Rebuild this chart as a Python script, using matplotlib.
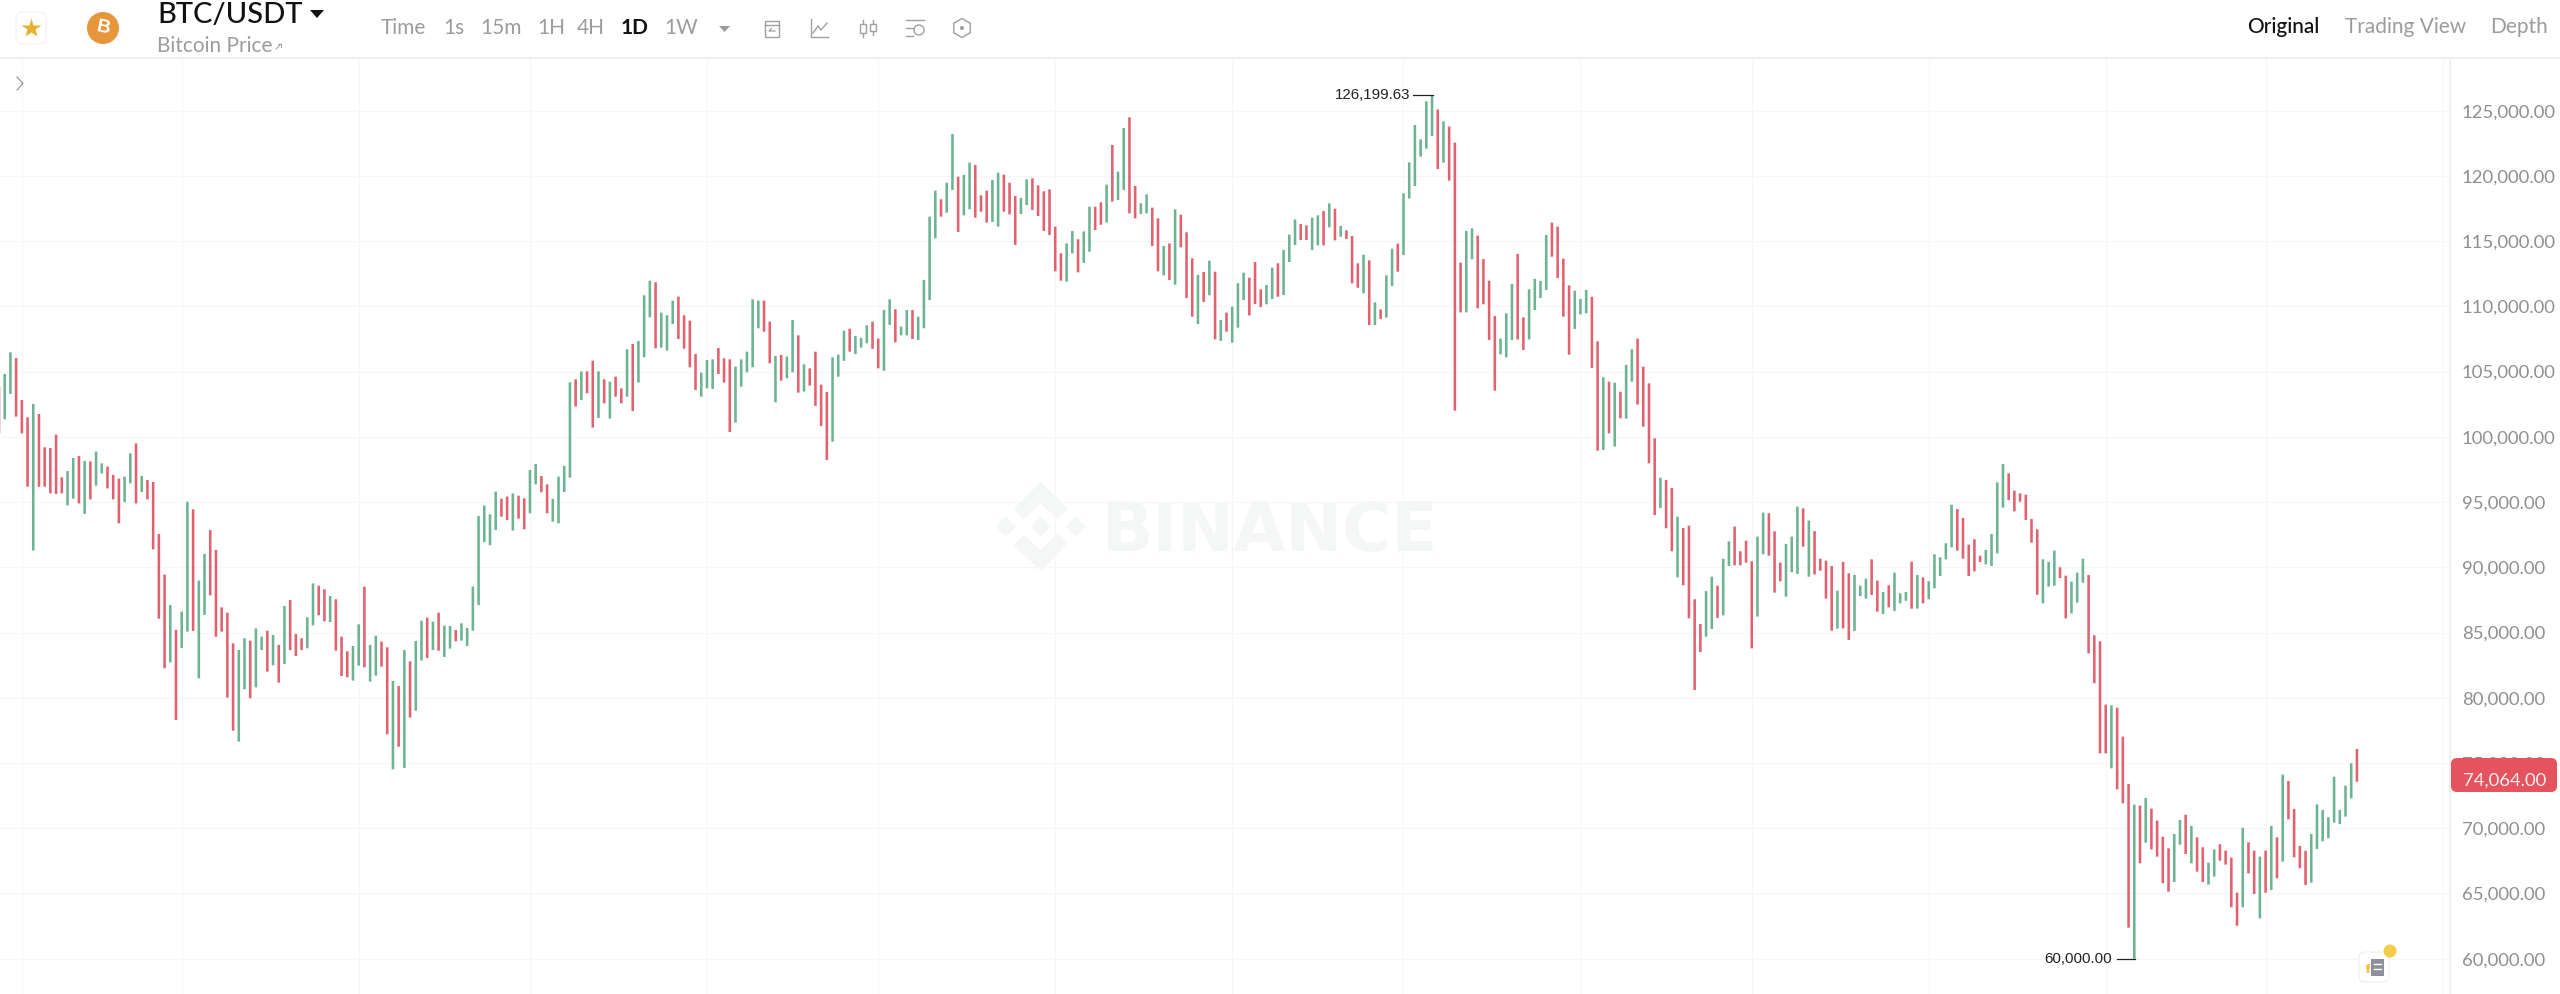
import numpy as np
import matplotlib
matplotlib.use('Agg')
import matplotlib.pyplot as plt
from matplotlib.patches import FancyBboxPatch, Circle, Polygon, Rectangle, RegularPolygon

# daily BTC/USDT bars
highs = [
    103850, 104820, 106480, 106040, 102830, 101500, 102520, 101750, 99200, 99150,
    100170, 96900, 97380, 98380, 98530, 98150, 98120, 98870, 97970, 97720,
    97080, 96800, 96950, 98740, 99500, 97000, 96690, 96540, 92550, 89440,
    87110, 85200, 86600, 95030, 94450, 88980, 91020, 92860, 91330, 86930,
    86520, 84170, 83660, 84560, 84380, 85320, 84680, 85140, 84810, 84050,
    87040, 87500, 84890, 84560, 86170, 88770, 88590, 88310, 87800, 87550,
    84680, 83560, 83970, 85630, 88520, 84050, 84760, 84300, 83870, 81290,
    80900, 83660, 82790, 84350, 85910, 86140, 85830, 86520, 85530, 85500,
    85200, 85710, 85350, 88520, 93930, 94730, 94060, 95800, 95260, 95420,
    95670, 95490, 95290, 97460, 97920, 97000, 96360, 95240, 96950, 97770,
    104180, 104410, 105020, 105020, 105840, 105020, 104410, 104230, 104610, 103720,
    106710, 107120, 107350, 110850, 111970, 111850, 109520, 109320, 110440, 110750,
    109320, 108910, 106350, 104920, 105890, 105940, 106810, 106020, 105940, 105380,
    105940, 106530, 110540, 110440, 110440, 108830, 106200, 106280, 106150, 108960,
    107780, 105560, 105250, 106530, 104000, 103440, 106100, 106300, 108140, 108290,
    107730, 107580, 108550, 108830, 107530, 109720, 110540, 109780, 108450, 109720,
    109720, 109210, 112020, 116880, 118870, 118210, 119480, 123210, 119940, 120070,
    121020, 120840, 118510, 118870, 119690, 120250, 120100, 119480, 118460, 118310,
    119740, 119820, 119280, 118820, 118970, 116110, 114070, 114830, 115780, 115140,
    115750, 117640, 117640, 117980, 119330, 122370, 120330, 123670, 124490, 119230,
    117900, 118590, 117570, 116750, 114630, 114830, 117440, 117030, 115680, 113680,
    112410, 112640, 113500, 112660, 108960, 109520, 109980, 111770, 112580, 112200,
    113400, 111310, 111640, 112970, 113300, 114320, 115500, 116670, 116310, 116210,
    116800, 116980, 117310, 117900, 117490, 116160, 115830, 115400, 113300, 113960,
    113530, 110310, 109770, 112380, 114420, 114810, 118670, 121040, 123900, 122800,
    125720, 126200, 125100, 124180, 123780, 122550, 113350, 115780, 115980, 115420,
    113630, 111970, 109260, 107530, 109470, 111720, 114020, 109160, 111310, 112120,
    111950, 115470, 116420, 116110, 113660, 111610, 111200, 110570, 111260, 110740,
    107320, 104560, 104230, 104150, 103460, 105510, 106710, 107530, 105380, 104100,
    99890, 96870, 96690, 96080, 93880, 93010, 93190, 87550, 85660, 88180,
    89280, 88590, 90660, 91990, 93120, 91230, 92040, 90460, 92350, 94190,
    94140, 92760, 90360, 91790, 92350, 94650, 94520, 93580, 92780, 90660,
    90510, 90100, 88210, 90410, 89540, 89410, 88590, 89130, 90610, 88980,
    88110, 88620, 89590, 88010, 88110, 90430, 89410, 89230, 88930, 91000,
    90770, 91840, 94800, 94470, 93780, 91740, 92150, 90890, 91330, 92550,
    96510, 97920, 97200, 95880, 95670, 95570, 93700, 92910, 90610, 90410,
    91280, 90000, 89360, 88900, 89590, 90660, 89410, 84790, 84330, 79470,
    79420, 79240, 77020, 73390, 71810, 71730, 72320, 71500, 70580, 69350,
    68460, 69560, 70630, 71040, 70170, 69300, 68540, 67360, 68380, 68770,
    68280, 67740, 65060, 70040, 68920, 68280, 67820, 68280, 70170, 69300,
    74110, 73620, 71480, 68640, 68260, 69560, 71830, 71400, 70840, 73950,
    71400, 73260, 74980, 76070,
]
lows = [
    100270, 101340, 103290, 101550, 100270, 96180, 91280, 96180, 96180, 95670,
    95620, 95670, 94750, 95260, 94900, 94090, 95210, 96260, 97200, 96050,
    95210, 93370, 95010, 96440, 94900, 95770, 95210, 91380, 86060, 82260,
    82720, 78300, 83820, 85070, 85120, 81490, 86350, 87850, 84680, 85070,
    80010, 77480, 76640, 80650, 79960, 80800, 83660, 82000, 82490, 81160,
    82590, 83660, 83200, 83660, 83790, 85550, 86320, 85860, 85810, 83610,
    81670, 81570, 81310, 82460, 82330, 81240, 81700, 82390, 77200, 74520,
    76250, 74620, 78480, 79010, 82850, 83050, 83660, 83610, 83130, 83770,
    84330, 84380, 83970, 85140, 87110, 91940, 91690, 92860, 93880, 93630,
    92810, 93730, 92910, 94140, 96360, 95750, 94140, 93500, 93370, 95770,
    96870, 102320, 102830, 103340, 100710, 101450, 102570, 101400, 103080, 102570,
    103080, 101980, 104160, 106100, 109160, 106790, 106840, 106610, 108650, 107500,
    106760, 105330, 103590, 103080, 103720, 103670, 104820, 104160, 100370, 101090,
    103850, 104950, 105330, 108320, 108060, 105640, 102650, 104310, 104490, 104950,
    103390, 103470, 103930, 102370, 100830, 98230, 99630, 104610, 105820, 106530,
    106350, 106840, 107170, 106740, 105250, 105070, 108580, 107250, 107780, 107780,
    107500, 107430, 108320, 110490, 115220, 116880, 117180, 118920, 115700, 116980,
    117440, 116800, 117260, 116420, 116470, 116110, 117260, 117060, 114710, 117080,
    117770, 117390, 116930, 115780, 115470, 112690, 111970, 111890, 114070, 112610,
    113330, 114190, 115850, 116260, 116420, 118030, 118150, 118920, 117130, 116750,
    117080, 117130, 114630, 112690, 112380, 112020, 111660, 114530, 110640, 109210,
    108650, 110340, 110850, 107470, 107350, 108060, 107220, 108370, 110490, 109310,
    110180, 109950, 110160, 110570, 110740, 110870, 113400, 114710, 115090, 115090,
    114320, 114680, 114680, 116060, 115060, 115340, 115170, 111770, 111430, 111000,
    108570, 108570, 109030, 109140, 111560, 112660, 113940, 118260, 119230, 121480,
    122090, 123060, 120530, 121020, 119640, 102010, 109540, 109540, 113610, 109850,
    110160, 107420, 103540, 106320, 106090, 107420, 107470, 106660, 107470, 109720,
    110640, 111260, 113810, 112180, 109210, 106300, 108270, 109390, 109470, 105280,
    98940, 98990, 100270, 99250, 101420, 101390, 104230, 102470, 100780, 97970,
    94010, 94550, 92990, 91230, 89230, 88620, 86090, 80600, 83510, 84680,
    85270, 86120, 86320, 90100, 90150, 90150, 90360, 83790, 86220, 91000,
    90890, 88060, 88930, 87750, 89620, 89490, 91580, 89280, 89460, 89740,
    87600, 85140, 85300, 85320, 84430, 85120, 87800, 87600, 87880, 86600,
    86420, 86930, 86650, 87240, 87440, 86830, 86830, 87240, 87550, 88390,
    89330, 90610, 91530, 91280, 90660, 89330, 89690, 90410, 90230, 90100,
    91070, 94570, 95160, 94290, 95030, 93630, 91890, 87900, 87240, 88520,
    88590, 89180, 86090, 86470, 87290, 88820, 83410, 81110, 75740, 75740,
    74590, 72980, 71910, 62380, 60000, 67310, 68890, 68380, 67820, 65780,
    65140, 65880, 68740, 68030, 67310, 66670, 65880, 65680, 66290, 67510,
    67210, 63940, 62530, 63940, 66540, 64960, 63090, 65060, 65270, 66160,
    67440, 70680, 67770, 66930, 65650, 65830, 68410, 69000, 69230, 70430,
    70330, 70890, 72290, 73570,
]
# r = down day, g = up day
directions = (
    "rggrrrgrrr" "rrggrgrggr" "rrggrgrrrr" "grggrggrrr" "rrggrggrgr"
    "grrrggrrgr" "rrggrggrrg" "rgrggrgrgg" "rggggggg" "rr" "grrggrrggg"
    "grgrrgrgrr" "grgggrgggr" "rrrgggrrrg" "ggggrrgrgg" "rgrrrrgggr"
    "gggrrggrgg" "rggggrggrg" "grrrggrrrg" "grrrrrrggr" "ggrrgrggrr"
    "ggrrgrgrrr" "grgrgrgggr" "rrggrgggrr" "ggrgrgrrrg" "rgrggrgggg"
    "ggrgrrrggr" "rrrgggrrgg" "ggrrrrgggr" "rgrgrggrrr" "rgrrgrrrrg"
    "grggrrrrgg" "rrrgggrgrr" "rrgrrgggrr" "grgggrgrgg" "gggrrrrrgg"
    "ggrrrrrrgg" "grrgggrrrr" "grrrgrgrrr" "rggrgrrggr" "rrrgrrgrgr"
    "grrrrggggg" "gggr"
)
price_ticks = list(range(60000, 125001, 5000))
month_starts = [4, 32, 63, 93, 124, 154, 185, 216, 246, 277, 307, 338, 369, 397, 428]
last_price = "74,064.00"
timeframes = ["Time", "1s", "15m", "1H", "4H", "1D", "1W"]
timeframe_x = [381, 443, 480, 537, 577, 621, 664]
view_tabs = ["Original", "Trading View", "Depth"]
view_tab_x = [2247, 2345, 2490]

assert len(highs) == len(lows) == len(directions)

GREEN = '#6bb391'
RED = '#e1616f'
GREY = '#9c9c9c'
GRID = '#f6f6f6'
UI_FONT = 'Lato'

fig = plt.figure(figsize=(25.6, 9.94), dpi=100, facecolor='white')

# chart area, right edge at x=2450 and top edge at y=58 in pixels
ax = fig.add_axes([0, 0, 2450 / 2560, (994 - 58) / 994])
ax.set_xlim(0.175, 429.3)
ax.set_ylim(57294, 129039)
for s in ax.spines.values():
    s.set_visible(False)
ax.yaxis.tick_right()
ax.set_yticks(price_ticks)
ax.set_yticklabels(['{:,.2f}'.format(p) for p in price_ticks], fontfamily=UI_FONT,
                   fontsize=13.3, color='#8f8f8f')
ax.set_xticks(month_starts)
ax.set_xticklabels([])
ax.tick_params(length=0)
ax.tick_params(axis='y', pad=8.5)
ax.grid(True, color=GRID, lw=0.8)
ax.set_axisbelow(True)

idx = np.arange(len(highs))
colors = [GREEN if d == 'g' else RED for d in directions]
ax.vlines(idx, lows, highs, colors=colors, linewidth=1.85, capstyle='butt', zorder=3, snap=False)

# high and low markers
i_max = int(np.argmax(highs))
i_min = int(np.argmin(lows))
ax.plot([i_max - 3.3, i_max + 0.2], [highs[i_max], highs[i_max]], color='#222222', lw=0.9, zorder=4)
ax.text(i_max - 3.9, highs[i_max], '126,199.63', ha='right', va='center',
        fontsize=10.8, family='Liberation Sans', color='#222222')
ax.plot([i_min - 3.1, i_min + 0.2], [lows[i_min], lows[i_min]], color='#222222', lw=0.9, zorder=4)
ax.text(i_min - 4.0, lows[i_min], '60,000.00', ha='right', va='center',
        fontsize=10.8, family='Liberation Sans', color='#222222')

# everything else sits on a pixel layer
ui = fig.add_axes([0, 0, 1, 1])
ui.set_xlim(0, 2560)
ui.set_ylim(994, 0)
ui.axis('off')
ui.patch.set_alpha(0)

ui.plot([0, 2560], [57.5, 57.5], color='#f0f0f0', lw=1.5)
ui.plot([2450, 2450], [58, 994], color='#f0f0f0', lw=1.5)

# watermark
WM = '#f5f6f6'
def wm_x(z):
    return 960 + z / 3
def wm_y(z):
    return 460 + z / 3
logo = [
    [(242, 65), (325, 148), (292, 177), (242, 130), (192, 177), (160, 148)],
    [(242, 332), (323, 250), (292, 222), (242, 270), (192, 225), (160, 255)],
    [(242, 170), (272, 200), (242, 230), (212, 200)],
    [(137, 170), (167, 200), (137, 230), (107, 200)],
    [(347, 170), (377, 200), (347, 230), (317, 200)],
]
for pts in logo:
    ui.add_patch(Polygon([(wm_x(a), wm_y(b)) for a, b in pts], closed=True, fc=WM, ec='none', zorder=1))
ui.text(1102, 551, 'BINANCE', fontfamily='DejaVu Sans', fontweight='bold',
        fontsize=48.5, color=WM, ha='left', va='baseline', zorder=1)

# header left
ui.add_patch(FancyBboxPatch((16, 12), 30, 32, boxstyle='round,pad=0,rounding_size=6', fc='white', ec='#f3f3f3', lw=1))
ui.plot([31], [28], marker='*', ms=15, color='#e8b030', mec='none')
ui.add_patch(Circle((103, 28), 16, fc='#e8963c', ec='none'))
ui.text(103, 28.5, 'B', color='white', fontsize=13.5, fontweight='bold', ha='center', va='center',
        family='Liberation Sans', rotation=-12)
ui.text(157, 15, 'BTC/USDT', fontfamily=UI_FONT, fontsize=21, fontweight='medium', color='#111111', ha='left', va='center')
ui.add_patch(Polygon([(310, 10), (324, 10), (317, 18)], closed=True, fc='#111111', ec='none'))
ui.text(157, 46, 'Bitcoin Price', fontfamily=UI_FONT, fontsize=15, color=GREY, ha='left', va='center')
ui.plot([276, 281], [49, 44], color=GREY, lw=0.7)
ui.plot([278, 281, 281], [44, 44, 47], color=GREY, lw=0.7)

for label, x in zip(timeframes, timeframe_x):
    active = label == '1D'
    ui.text(x, 28.5, label, fontfamily=UI_FONT, fontsize=15, ha='left', va='center',
            color='#111111' if active else GREY, fontweight='bold' if active else 'normal')
ui.add_patch(Polygon([(719, 26), (730, 26), (724.5, 32)], closed=True, fc=GREY, ec='none'))

# toolbar icons
ICON = '#9f9f9f'
ui.add_patch(Rectangle((765, 21), 14, 16, fc='none', ec=ICON, lw=1))
ui.plot([765, 779], [25, 25], color=ICON, lw=1)
ui.plot([775, 769, 771.5], [31, 31, 28.5], color=ICON, lw=0.9)
ui.plot([811, 811, 828], [19, 37, 37], color=ICON, lw=1)
ui.plot([813, 818, 821, 827], [33, 26, 30, 23], color=ICON, lw=1)
for cx, top, bot in [(863, 20, 37), (873, 20, 35)]:
    ui.plot([cx, cx], [top, bot], color=ICON, lw=1)
    ui.add_patch(Rectangle((cx - 3, top + 4), 6, bot - top - 8, fc='white', ec=ICON, lw=1, zorder=3))
ui.plot([906, 924], [20, 20], color=ICON, lw=1)
ui.plot([906, 913], [28, 28], color=ICON, lw=1)
ui.plot([906, 913], [36, 36], color=ICON, lw=1)
ui.add_patch(Circle((919, 30), 5, fc='none', ec=ICON, lw=1))
ui.add_patch(RegularPolygon((962, 28), 6, radius=9.5, fc='none', ec=ICON, lw=1))
ui.add_patch(Circle((962, 28), 2, fc=ICON, ec='none'))

# collapse chevron
ui.plot([17, 23, 17], [77, 83.5, 90], color='#9a9a9a', lw=0.9)

# header right
for label, x in zip(view_tabs, view_tab_x):
    active = label == 'Original'
    ui.text(x, 27, label, fontfamily=UI_FONT, fontsize=15, ha='left', va='center',
            color='#111111' if active else GREY, fontweight='medium' if active else 'normal')

# current price tag
ui.add_patch(FancyBboxPatch((2451, 758), 106, 34, boxstyle='round,pad=0,rounding_size=6', fc='#e5535f', ec='none', zorder=5))
ui.text(2463, 781, last_price, fontfamily=UI_FONT, fontsize=13.3, color='#fbeff0', ha='left', va='center', zorder=6)

# news button
ui.add_patch(FancyBboxPatch((2359, 952), 30, 30, boxstyle='round,pad=0,rounding_size=6', fc='white', ec='#f2f2f2', lw=1, zorder=5))
ui.add_patch(Rectangle((2371, 959), 13, 17, fc='#8f8f9b', ec='none', zorder=6))
ui.plot([2374, 2381], [964, 964], color='white', lw=1, zorder=7)
ui.plot([2374, 2381], [969, 969], color='white', lw=1, zorder=7)
ui.add_patch(Polygon([(2366, 965), (2370, 964), (2369, 973), (2367, 973)], closed=True, fc='#efc23c', ec='none', zorder=6))
ui.add_patch(Circle((2390, 951), 6.5, fc='#f3cc4a', ec='none', zorder=7))

fig.savefig('out.png', dpi=100)
